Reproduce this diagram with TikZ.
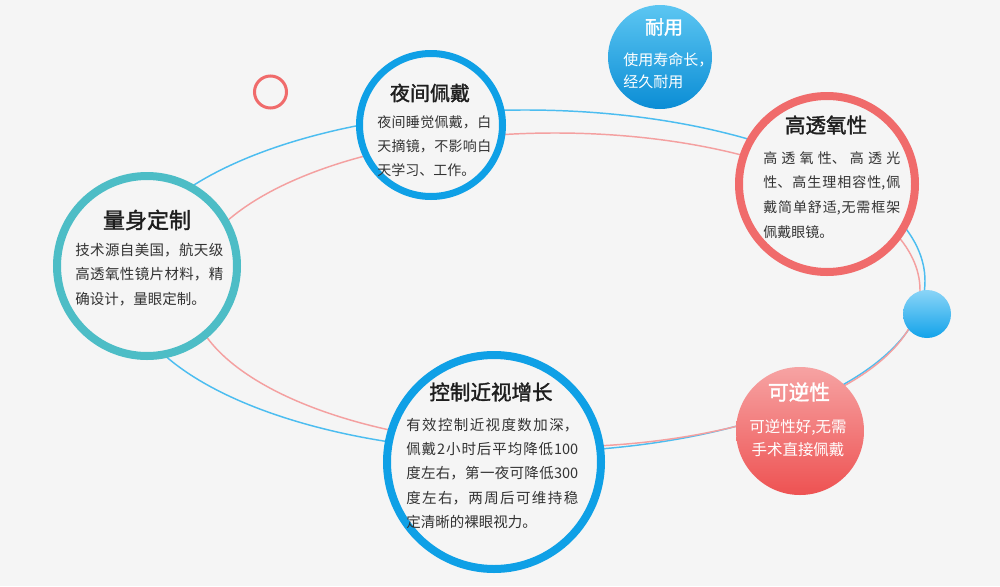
\documentclass[tikz,border=0pt]{standalone}
\usepackage{fontspec}
\newfontfamily\cjk{Noto Sans CJK SC}
\newfontfamily\cjkb[FakeBold=1.6]{Noto Sans CJK SC}
\XeTeXlinebreaklocale "zh"
\XeTeXlinebreakskip=0pt plus 6pt
\definecolor{bgc}{HTML}{F5F5F5}
\definecolor{tealc}{HTML}{4DBDC6}
\definecolor{bluec}{HTML}{0FA0E6}
\definecolor{redc}{HTML}{F06B6B}
\definecolor{ellb}{HTML}{4CBDF0}
\definecolor{ellp}{HTML}{F4A0A0}
\definecolor{headc}{HTML}{1E1E1E}
\definecolor{bodyc}{HTML}{333333}
\definecolor{durtop}{HTML}{5CC6F2}
\definecolor{durbot}{HTML}{0B8DD5}
\definecolor{smtop}{HTML}{8AD4F7}
\definecolor{smbot}{HTML}{12A3EA}
\definecolor{revtop}{HTML}{F6A3A3}
\definecolor{revbot}{HTML}{EE5252}
\begin{document}
\begin{tikzpicture}[x=0.75pt,y=-0.75pt,
  ring/.style={circle, draw, fill=bgc, inner sep=0pt, outer sep=0pt},
  ball/.style={circle, draw=none, inner sep=0pt, outer sep=0pt},
  head/.style={inner sep=0pt, text=headc, font=\cjkb\fontsize{#1}{#1}\selectfont},
  whead/.style={inner sep=0pt, text=white, font=\cjkb\fontsize{#1}{#1}\selectfont},
  body/.style={anchor=north west, inner sep=0pt, align=justify, text=bodyc},
  ell/.style={line width=1.1pt}
]
\useasboundingbox (0,0) rectangle (1000,586);
\fill[bgc] (0,0) rectangle (1000,586);

% orbits
\draw[ell, ellb] (525,281) ellipse [x radius=400, y radius=171];
\draw[ell, ellp] (555,290) ellipse [x radius=365, y radius=157];

% circles
\node[ring, draw=tealc, line width=6pt, minimum size=135pt] (custom) at (147,266) {};
\node[ring, draw=bluec, line width=5.25pt, minimum size=107.25pt] (night) at (431,125) {};
\node[ball, top color=durtop, bottom color=durbot, minimum size=78pt] (durable) at (660,57) {};
\node[ring, draw=redc, line width=6pt, minimum size=132pt] (oxygen) at (827,184) {};
\node[ball, top color=smtop, bottom color=smbot, minimum size=36pt] (dot) at (927,314) {};
\node[ball, top color=revtop, bottom color=revbot, minimum size=96pt] (rev) at (800,431) {};
\node[ring, draw=bluec, line width=6pt, minimum size=160.5pt] (control) at (494,462) {};
\node[ring, draw=redc, fill=none, line width=2.25pt, minimum size=24pt] (smallring) at (270.5,92) {};

% headings
\node[head=16.5pt] (customh) at (147,220) {量身定制};
\node[head=15pt] (nighth) at (430,93) {夜间佩戴};
\node[whead=14.25pt] (durableh) at (664,27) {耐用};
\node[head=15.4pt] (oxygenh) at (826,125) {高透氧性};
\node[head=15.4pt] (controlh) at (491,392) {控制近视增长};
\node[whead=15.5pt] (revh) at (799,392) {可逆性};

% bodies
\node[body, text width=111pt, font=\cjk\fontsize{10.875pt}{18.375pt}\selectfont] (customb) at (75,242.75)
  {技术源自美国，航天级\linebreak 高透氧性镜片材料，精\linebreak 确设计，量眼定制。};
\node[body, text width=85.5pt, font=\cjk\fontsize{10.5pt}{18pt}\selectfont] (nightb) at (377,115)
  {夜间睡觉佩戴，白\linebreak 天摘镜，不影响白\linebreak 天学习、工作。};
\node[body, text width=102.75pt, font=\cjk\fontsize{10.5pt}{18.5pt}\selectfont] (oxygenb) at (763,151)
  {高透氧性、高透光\linebreak 性、高生理相容性,佩\linebreak 戴简单舒适,无需框架\linebreak 佩戴眼镜。};
\node[body, text width=129pt, font=\cjk\fontsize{10.875pt}{18.2pt}\selectfont] (controlb) at (406,417.75)
  {有效控制近视度数加深，\linebreak 佩戴2小时后平均降低100\linebreak 度左右，第一夜可降低300\linebreak 度左右，两周后可维持稳\linebreak 定清晰的裸眼视力。};
\node[anchor=north west, inner sep=0pt, align=left, text=white, font=\cjk\fontsize{11.25pt}{16.5pt}\selectfont] (durableb) at (623,52.5)
  {使用寿命长，\\经久耐用};
\node[inner sep=0pt, align=center, text=white, font=\cjk\fontsize{11.6pt}{17.25pt}\selectfont] (revb) at (798,438.5)
  {可逆性好,无需\\手术直接佩戴};
\end{tikzpicture}
\end{document}
